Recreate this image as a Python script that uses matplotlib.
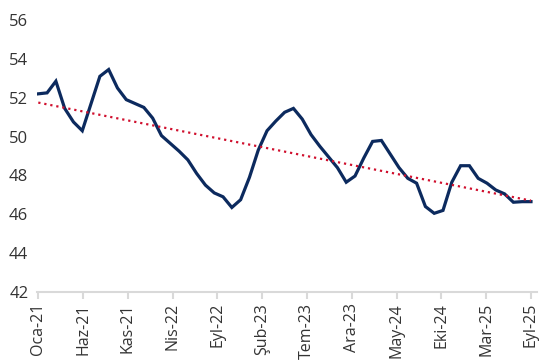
import numpy as np
import matplotlib
matplotlib.use("Agg")
import matplotlib.pyplot as plt

# monthly index, Oca-21 .. Eyl-25
values = [
    52.2, 52.25, 52.85, 51.45, 50.75, 50.3, 51.7, 53.1, 53.45, 52.5,
    51.9, 51.7, 51.5, 50.95, 50.05, 49.65, 49.25, 48.8, 48.1, 47.5,
    47.1, 46.9, 46.35, 46.75, 47.9, 49.3, 50.3, 50.8, 51.25, 51.45,
    50.9, 50.1, 49.5, 48.95, 48.4, 47.65, 47.97, 48.9, 49.75, 49.8,
    49.1, 48.4, 47.85, 47.6, 46.4, 46.05, 46.2, 47.65, 48.5, 48.5,
    47.85, 47.6, 47.25, 47.05, 46.62, 46.65, 46.65,
]
tick_labels = ["Oca-21", "Haz-21", "Kas-21", "Nis-22", "Eyl-22", "Şub-23",
               "Tem-23", "Ara-23", "May-24", "Eki-24", "Mar-25", "Eyl-25"]
yticks = [42, 44, 46, 48, 50, 52, 54, 56]

plt.rcParams["font.family"] = ["Open Sans", "DejaVu Sans"]

x = np.arange(len(values))
y = np.array(values)

fig = plt.figure(figsize=(5.5, 3.63), dpi=100)
ax = fig.add_axes([36.7 / 550, 1 - 292 / 363, 500 / 550, 272 / 363])

ax.plot(x, y, color="#0C2A5E", lw=2.3, solid_joinstyle="miter", zorder=3)

# linear trend
k, b = np.polyfit(x, y, 1)
ax.plot(x, k * x + b, color="#D0102E", lw=1.6, linestyle=(0, (1, 1.75)),
        dash_capstyle="butt", zorder=4)

ax.set_xlim(-0.18, 56.65)
ax.set_ylim(42, 56)
ax.set_yticks(yticks)
ax.set_yticklabels([str(t) for t in yticks])
ax.set_xticks(np.linspace(0, len(values) - 1, len(tick_labels)))
ax.set_xticklabels(tick_labels, rotation=90)

for s in ("top", "right", "left"):
    ax.spines[s].set_visible(False)
ax.spines["bottom"].set_color("#D9D9D9")
ax.spines["bottom"].set_linewidth(1.5)
ax.tick_params(axis="y", length=0, pad=6, labelsize=12, labelcolor="#333333")
ax.tick_params(axis="x", length=5, width=1.5, color="#D9D9D9", pad=3,
               labelsize=11.5, labelcolor="#333333")

fig.savefig("out.png", dpi=100, facecolor="white")
